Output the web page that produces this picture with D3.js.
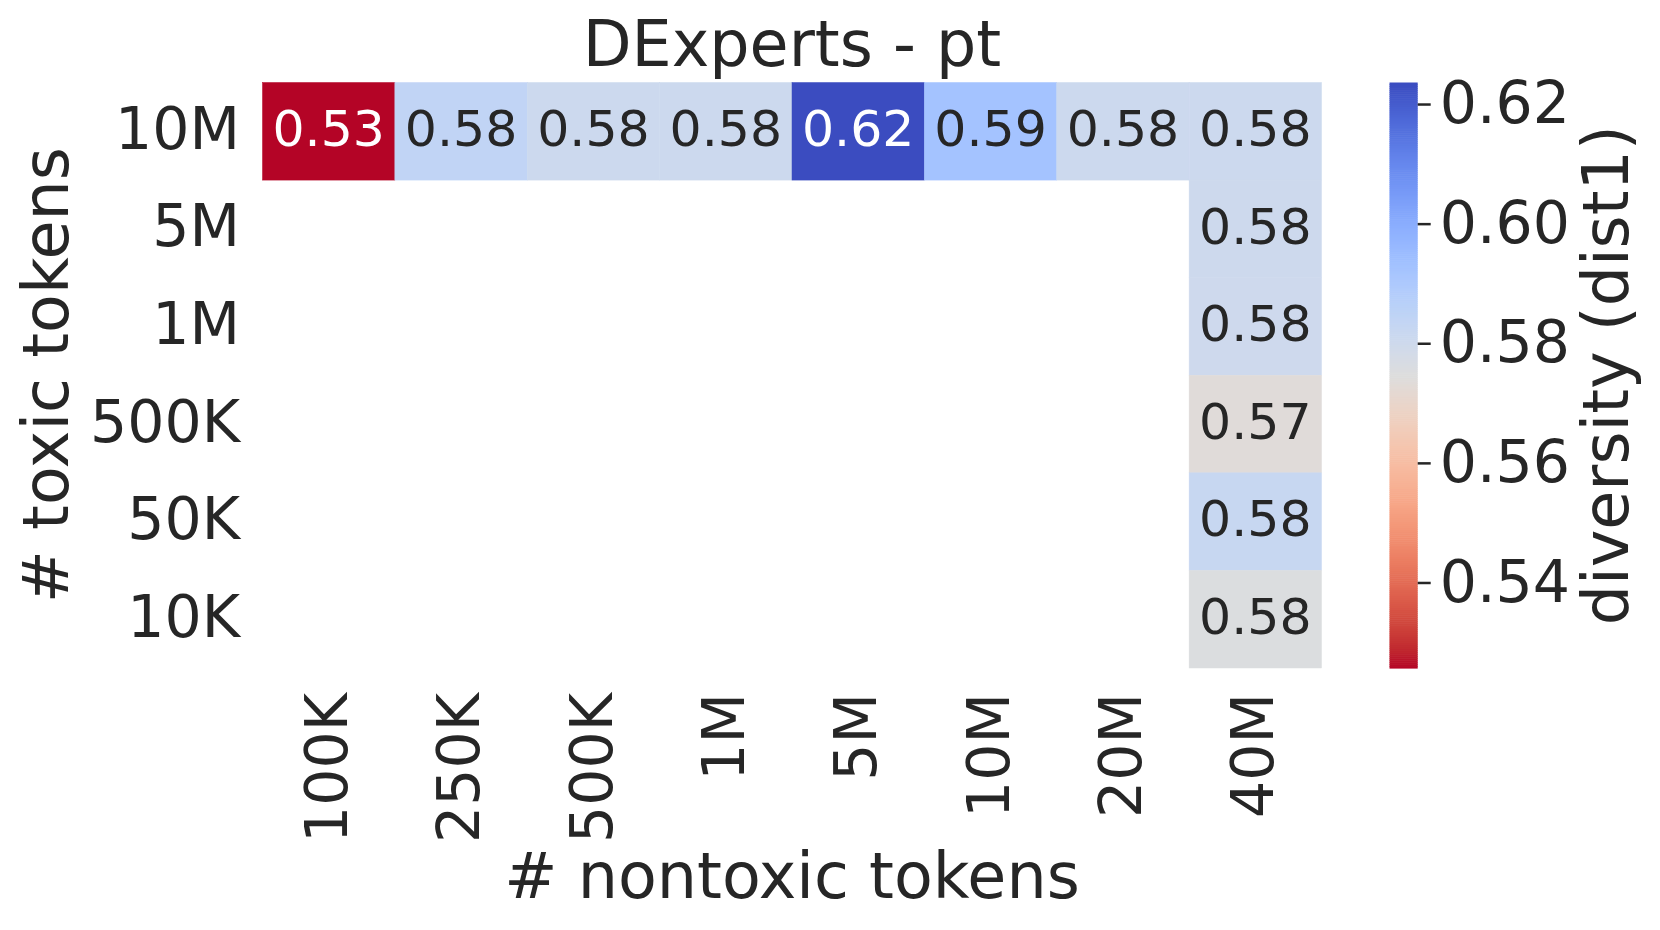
<!DOCTYPE html>
<html>
<head>
<meta charset="utf-8">
<script src="https://cdn.jsdelivr.net/npm/d3@7"></script>
<style>
  html, body { margin: 0; padding: 0; background: #ffffff; }
  svg { display: block; }
  text { font-family: "DejaVu Sans", sans-serif; fill: #262626; }
</style>
</head>
<body>
<svg id="chart" width="1660" height="930"></svg>
<script>
// ---- data ----
const nontoxicTokens = ["100K", "250K", "500K", "1M", "5M", "10M", "20M", "40M"];
const toxicTokens = ["10M", "5M", "1M", "500K", "50K", "10K"];
// row "10M toxic tokens", across all nontoxic sizes
const row10M = [0.5257, 0.5842, 0.5808, 0.5806, 0.6236, 0.5926, 0.5807, 0.5806];
// column "40M nontoxic tokens", rows 5M .. 10K toxic tokens
const col40M = [0.5804, 0.5802, 0.5736, 0.5822, 0.5753];
const colorbarTicks = [0.54, 0.56, 0.58, 0.60, 0.62];
const titleText = "DExperts - pt";
const xLabel = "# nontoxic tokens";
const yLabel = "# toxic tokens";
const cbLabel = "diversity (dist1)";

// coolwarm colormap (Moreland) samples
const coolwarm = [
  [59,76,192],[68,90,204],[77,104,215],[87,117,225],[98,130,234],[108,142,241],
  [119,154,247],[130,165,251],[141,176,254],[152,185,255],[163,194,255],[174,201,253],
  [184,208,249],[194,213,244],[204,217,238],[213,219,230],[221,221,221],[229,216,209],
  [236,211,197],[241,204,185],[245,196,173],[247,187,160],[247,177,148],[247,166,135],
  [244,154,123],[241,141,111],[236,127,99],[229,112,88],[222,96,77],[213,80,66],
  [203,62,56],[192,40,47],[180,4,38]
].map(c => d3.rgb(c[0], c[1], c[2]).toString());
const coolwarmInterp = d3.piecewise(d3.interpolateRgb, coolwarm);

// ---- build cell table ----
const cells = [];
toxicTokens.forEach((t, i) => {
  nontoxicTokens.forEach((n, j) => {
    let v = null;
    if (i === 0) v = row10M[j];
    else if (j === nontoxicTokens.length - 1) v = col40M[i - 1];
    if (v !== null) cells.push({ toxic: t, nontoxic: n, value: v });
  });
});

const vmin = d3.min(cells, d => d.value);
const vmax = d3.max(cells, d => d.value);
// reversed coolwarm: low = red, high = blue
const color = d3.scaleSequential(t => coolwarmInterp(1 - t)).domain([vmin, vmax]);

// ---- layout ----
const svg = d3.select("#chart");
const plot = { x0: 262.5, x1: 1321.5, y0: 82.5, y1: 668 };
const x = d3.scaleBand().domain(nontoxicTokens).range([plot.x0, plot.x1]).padding(0);
const y = d3.scaleBand().domain(toxicTokens).range([plot.y0, plot.y1]).padding(0);

// cells
svg.append("g").selectAll("rect").data(cells).join("rect")
  .attr("x", d => x(d.nontoxic))
  .attr("y", d => y(d.toxic))
  .attr("width", x.bandwidth())
  .attr("height", y.bandwidth())
  .attr("fill", d => color(d.value))
  .attr("stroke", d => color(d.value))
  .attr("stroke-width", 0.5);

// annotations
function lum(c) {
  const r = d3.rgb(c);
  const f = v => { v /= 255; return v <= 0.03928 ? v / 12.92 : Math.pow((v + 0.055) / 1.055, 2.4); };
  return 0.2126 * f(r.r) + 0.7152 * f(r.g) + 0.0722 * f(r.b);
}
svg.append("g").selectAll("text").data(cells).join("text")
  .attr("x", d => x(d.nontoxic) + x.bandwidth() / 2)
  .attr("y", d => y(d.toxic) + y.bandwidth() / 2)
  .attr("dy", "0.29em")
  .attr("text-anchor", "middle")
  .style("font-size", "50.5px")
  .style("fill", d => lum(color(d.value)) > 0.408 ? "#262626" : "#ffffff")
  .text(d => d3.format(".2f")(d.value));

// x tick labels (rotated)
svg.append("g").selectAll("text").data(nontoxicTokens).join("text")
  .attr("transform", d => `translate(${x(d) + x.bandwidth() / 2},693) rotate(-90)`)
  .attr("dy", "0.31em")
  .attr("text-anchor", "end")
  .style("font-size", "58.5px")
  .text(d => d);

// y tick labels
svg.append("g").selectAll("text").data(toxicTokens).join("text")
  .attr("x", 240)
  .attr("y", d => y(d) + y.bandwidth() / 2)
  .attr("dy", "0.3em")
  .attr("text-anchor", "end")
  .style("font-size", "58.5px")
  .text(d => d);

// title
svg.append("text")
  .attr("x", (plot.x0 + plot.x1) / 2)
  .attr("y", 66)
  .attr("text-anchor", "middle")
  .style("font-size", "63.5px")
  .text(titleText);

// axis labels
svg.append("text")
  .attr("x", (plot.x0 + plot.x1) / 2)
  .attr("y", 898)
  .attr("text-anchor", "middle")
  .style("font-size", "63.5px")
  .text(xLabel);

svg.append("text")
  .attr("transform", `translate(68,${(plot.y0 + plot.y1) / 2}) rotate(-90)`)
  .attr("text-anchor", "middle")
  .style("font-size", "63.5px")
  .text(yLabel);

// ---- colorbar ----
const cb = { x0: 1389.5, x1: 1417.7, y0: 82.5, y1: 668 };
const cy = d3.scaleLinear().domain([vmin, vmax]).range([cb.y1, cb.y0]);
const nSteps = 300;
const steps = d3.range(nSteps).map(i => vmin + (vmax - vmin) * (i + 0.5) / nSteps);
const stepH = (cb.y1 - cb.y0) / nSteps;
svg.append("g").selectAll("rect").data(steps).join("rect")
  .attr("x", cb.x0)
  .attr("y", d => cy(d) - stepH / 2)
  .attr("width", cb.x1 - cb.x0)
  .attr("height", stepH + 0.6)
  .attr("fill", d => color(d));

const cbAxis = d3.axisRight(cy).tickValues(colorbarTicks).tickSize(13).tickPadding(9)
  .tickFormat(d3.format(".2f"));
const cbG = svg.append("g").attr("transform", `translate(${cb.x1},0)`).call(cbAxis);
cbG.select(".domain").remove();
cbG.selectAll(".tick line").attr("stroke", "#262626").attr("stroke-width", 2.5);
cbG.selectAll(".tick text")
  .attr("fill", "#262626")
  .style("font-family", "DejaVu Sans, sans-serif")
  .style("font-size", "58.5px");

svg.append("text")
  .attr("transform", `translate(1628,${(cb.y0 + cb.y1) / 2}) rotate(-90)`)
  .attr("text-anchor", "middle")
  .style("font-size", "63.5px")
  .text(cbLabel);
</script>
</body>
</html>
